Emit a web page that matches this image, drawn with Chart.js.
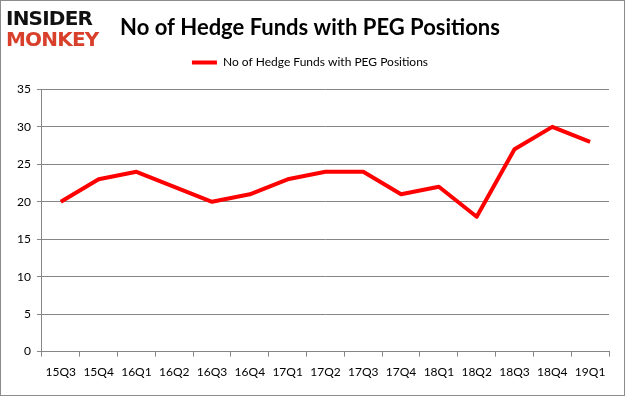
<!DOCTYPE html>
<html>
<head>
<meta charset="utf-8">
<script src="https://cdn.jsdelivr.net/npm/chart.js@4/dist/chart.umd.min.js"></script>
<style>
  html, body { margin: 0; padding: 0; background: #fff; }
  #wrap { position: relative; width: 623px; height: 394px; border: 1px solid #8c8c8c; background: #fff; }
  #logo { position: absolute; left: 5px; top: 7px; font-family: "DejaVu Sans", sans-serif; font-weight: bold; font-size: 20px; line-height: 21px; letter-spacing: -0.8px; }
  #logo .a { color: #111; }
  #logo .b { color: #d8402c; }
  canvas { position: absolute; left: 0; top: 0; }
</style>
</head>
<body>
<div id="wrap">
  <canvas id="chart1" width="623" height="394"></canvas>
  <div id="logo"><div class="a">INSIDER</div><div class="b">MONKEY</div></div>
</div>
<script>
var quarters = ['15Q3', '15Q4', '16Q1', '16Q2', '16Q3', '16Q4', '17Q1', '17Q2', '17Q3', '17Q4', '18Q1', '18Q2', '18Q3', '18Q4', '19Q1']
var funds = [20, 23, 24, 22, 20, 21, 23, 24, 24, 21, 22, 18, 27, 30, 28]
var yTicks = [0, 5, 10, 15, 20, 25, 30, 35]
var seriesName = 'No of Hedge Funds with PEG Positions'
var titleText = 'No of Hedge Funds with PEG Positions'

// push the plot area down a bit below the legend
const legendMargin = {
  id: 'legendMargin',
  beforeInit(chart){
    const origFit = chart.legend.fit
    chart.legend.fit = function(){
      origFit.bind(chart.legend)()
      this.height += 11
    }
  }
}

const ctx = document.getElementById('chart1').getContext('2d')
const chart1 = new Chart(ctx, {
  type: 'line',
  data: {
    labels: [...quarters],
    datasets: [{
      label: seriesName,
      data: [...funds],
      borderColor: '#ff0000',
      backgroundColor: '#ff0000',
      borderWidth: 4,
      pointRadius: 0,
      tension: 0,
      borderJoinStyle: 'round'
    }]
  },
  plugins: [legendMargin],
  options: {
    responsive: false,
    animation: false,
    layout: { padding: { left: 10, right: 15, top: 10, bottom: 8 } },
    plugins: {
      title: {
        display: true,
        text: titleText,
        color: '#000',
        font: { family: 'Lato', size: 22, weight: 'bold' },
        padding: { top: 4, bottom: 5 }
      },
      legend: {
        display: true,
        labels: {
          usePointStyle: true,
          pointStyle: 'line',
          pointStyleWidth: 25,
          color: '#000',
          font: { family: 'Lato', size: 12 },
          padding: 10
        }
      },
      tooltip: { enabled: false }
    },
    scales: {
      x: {
        offset: true,
        grid: { offset: true, drawOnChartArea: false, color: '#868686', tickLength: 5 },
        border: { color: '#868686' },
        ticks: { color: '#000', font: { family: 'Lato', size: 12 }, padding: 8, maxRotation: 0, autoSkip: false }
      },
      y: {
        min: 0,
        max: 35,
        afterBuildTicks: function(axis){ axis.ticks = yTicks.map(v => ({ value: v })) },
        grid: { color: '#868686', tickLength: 5 },
        border: { color: '#868686' },
        ticks: { color: '#000', font: { family: 'Lato', size: 12 }, padding: 6 }
      }
    }
  }
})
</script>
</body>
</html>
